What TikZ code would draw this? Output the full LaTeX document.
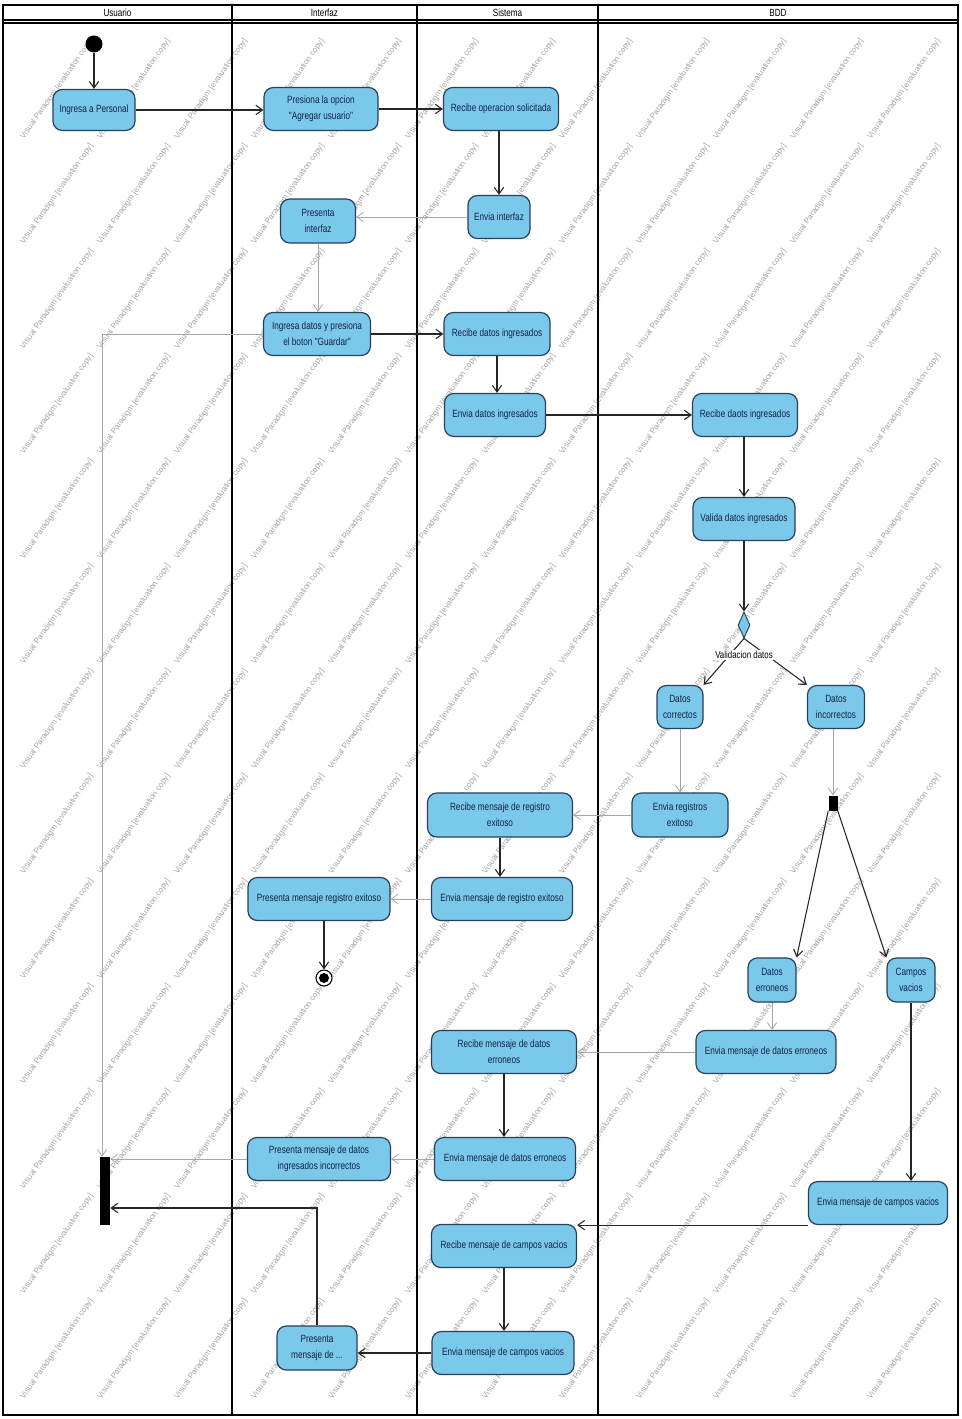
\documentclass[tikz,border=0pt]{standalone}
\usepackage{fontspec}
\setmainfont{Liberation Sans}
\newfontfamily\actfont[FakeStretch=0.78]{Liberation Sans}
\usetikzlibrary{arrows.meta,shapes.geometric,calc}

\definecolor{actfill}{RGB}{122,200,234}
\definecolor{actline}{RGB}{40,64,90}
\definecolor{acttext}{RGB}{20,35,70}
\definecolor{wmgray}{RGB}{165,165,165}

\tikzset{
  act/.style={draw=actline, line width=0.9pt, fill=actfill, rounded corners=7pt,
    align=center, text=acttext, inner sep=1pt,
    font=\actfont\fontsize{7.9}{12}\selectfont},
  bw/.style={minimum width=#1*0.75pt},
  bh/.style={minimum height=#1*0.75pt},
  flow/.style={draw=black!85, line width=0.8pt, -{Straight Barb[length=5pt,width=7pt]}},
  flowlt/.style={draw=black!35, line width=0.6pt, -{Straight Barb[length=5pt,width=7pt]}},
  lane/.style={draw=black, line width=1.1pt},
  lanehead/.style={font=\actfont\fontsize{7.8}{9}\selectfont, text=black, inner sep=0pt},
  wm/.style={rotate=55, text=wmgray, font=\fontsize{6}{6}\selectfont, inner sep=0pt},
  bar/.style={fill=black, inner sep=0pt},
}

\begin{document}
\begin{tikzpicture}[x=0.75pt, y=-0.75pt]
\useasboundingbox (0,0) rectangle (961,1419);
\fill[white] (0,0) rectangle (961,1419);

% evaluation watermark: one string per grid cell, forming diagonal stripes
\foreach \k in {0,...,11}{
  \foreach \m in {0,...,12}{
    \node[wm] (wm\k_\m) at (57+77*\k, 89+105*\m) {Visual Paradigm [evaluation copy]};
  }
}

% swimlane frame
\draw[lane] (3,5) rectangle (958,1415);
\draw[line width=0.8pt] (3,20) -- (958,20);
\draw[line width=0.8pt] (3,23) -- (958,23);
\draw[lane] (232,5) -- (232,1415);
\draw[lane] (417,5) -- (417,1415);
\draw[lane] (598,5) -- (598,1415);
\node[lanehead] (hUsuario) at (117.5,13) {Usuario};
\node[lanehead] (hInterfaz) at (324.5,13) {Interfaz};
\node[lanehead] (hSistema) at (507.5,13) {Sistema};
\node[lanehead] (hBDD) at (778,13) {BDD};

% control nodes
\node[circle, fill=black, minimum size=12.75pt, inner sep=0pt] (init) at (94,44) {};
\node[circle, draw=black, line width=0.8pt, fill=white, minimum size=12pt, inner sep=0pt] (fin) at (324,978) {};
\node[circle, fill=black, minimum size=7.5pt, inner sep=0pt] (fincore) at (fin) {};
\node[diamond, draw=actline, fill=actfill, line width=0.7pt, minimum width=9pt, minimum height=19.5pt, inner sep=0pt] (dia) at (744,625) {};
\node[bar, minimum width=6.75pt, minimum height=11.25pt] (fork) at (833,803) {};
\node[bar, minimum width=7.5pt, minimum height=51pt] (join) at (105,1191) {};

% actions
\node[act, bw=82,  bh=41] (ip)   at (94,110)  {Ingresa a Personal};
\node[act, bw=114, bh=43] (po)   at (321,109) {Presiona la opcion\\"Agregar usuario"};
\node[act, bw=115, bh=43] (ro)   at (501,109) {Recibe operacion solicitada};
\node[act, bw=62,  bh=43] (ei)   at (499,217) {Envia interfaz};
\node[act, bw=75,  bh=44] (pi)   at (318,221) {Presenta\\interfaz};
\node[act, bw=107, bh=43] (id)   at (317,334) {Ingresa datos y presiona\\el boton "Guardar"};
\node[act, bw=106, bh=43] (rd)   at (497,334) {Recibe datos ingresados};
\node[act, bw=101, bh=43] (ed)   at (495,415) {Envia datos ingresados};
\node[act, bw=105, bh=43] (rdb)  at (745,415) {Recibe daots ingresados};
\node[act, bw=102, bh=43] (vd)   at (744,519) {Valida datos ingresados};
\node[act, bw=46,  bh=43] (dc)   at (680,707) {Datos\\correctos};
\node[act, bw=57,  bh=43] (di)   at (836,707) {Datos\\incorrectos};
\node[act, bw=96,  bh=44] (er)   at (680,815) {Envia registros\\exitoso};
\node[act, bw=145, bh=44] (rre)  at (500,815) {Recibe mensaje de registro\\exitoso};
\node[act, bw=141, bh=43] (emr)  at (502,899) {Envia mensaje de registro exitoso};
\node[act, bw=142, bh=43] (pmr)  at (319,899) {Presenta mensaje registro exitoso};
\node[act, bw=48,  bh=44] (de)   at (772,980) {Datos\\erroneos};
\node[act, bw=48,  bh=44] (cv)   at (911,980) {Campos\\vacios};
\node[act, bw=140, bh=43] (emdb) at (766,1052) {Envia mensaje de datos erroneos};
\node[act, bw=145, bh=43] (rmde) at (504,1052) {Recibe mensaje de datos\\erroneos};
\node[act, bw=141, bh=43] (emds) at (505,1159) {Envia mensaje de datos erroneos};
\node[act, bw=143, bh=43] (pmdi) at (319,1159) {Presenta mensaje de datos\\ingresados incorrectos};
\node[act, bw=139, bh=43] (emcb) at (878,1203) {Envia mensaje de campos vacios};
\node[act, bw=145, bh=43] (rmcv) at (504,1246) {Recibe mensaje de campos vacios};
\node[act, bw=142, bh=43] (emcs) at (503,1353) {Envia mensaje de campos vacios};
\node[act, bw=80,  bh=44] (pmde) at (317,1348) {Presenta\\mensaje de ...};

% control flows
\draw[flow] (init) -- (ip);
\draw[flow] (ip.east) -- (ip.east -| po.west);
\draw[flow] (po.east) -- (po.east -| ro.west);
\draw[flow] (ro.south -| ei.north) -- (ei.north);
\draw[flowlt] (ei.west) -- (ei.west -| pi.east);
\draw[flowlt] (pi.south) -- (pi.south |- id.north);
\draw[flow] (id.east) -- (id.east -| rd.west);
\draw[flow] (rd.south) -- (rd.south |- ed.north);
\draw[flow] (ed.east) -- (ed.east -| rdb.west);
\draw[flow] (rdb.south -| vd.north) -- (vd.north);
\draw[flow] (vd.south) -- (dia.north);
\draw[flow] (dia.south) -- (dc.north east);
\draw[flow] (dia.south) -- (di.north west);
\node[fill=white, inner sep=1pt, font=\actfont\fontsize{7.6}{9}\selectfont] (vlabel) at (744,655) {Validacion datos};
\draw[flowlt] (dc.south) -- (dc.south |- er.north);
\draw[flowlt] (di.south -| fork.north) -- (fork.north);
\draw[flowlt] (er.west) -- (er.west -| rre.east);
\draw[flow] (rre.south) -- (rre.south |- emr.north);
\draw[flowlt] (emr.west) -- (emr.west -| pmr.east);
\draw[flow] (pmr.south -| fin.north) -- (fin.north);
\draw[flow] (fork.south west) -- (de.north east);
\draw[flow] (fork.south east) -- (cv.north west);
\draw[flowlt] (de.south) -- (de.south |- emdb.north);
\draw[flowlt] (emdb.west) -- (emdb.west -| rmde.east);
\draw[flow] (rmde.south) -- (rmde.south |- emds.north);
\draw[flowlt] (emds.west) -- (emds.west -| pmdi.east);
\draw[flowlt] (pmdi.west) -- (pmdi.west -| join.east);
\coordinate (jtop) at ([xshift=-2.25pt]join.north);
\draw[flowlt] (id.west) -- (id.west -| jtop) -- (jtop);
\draw[flow] (cv.south) -- (cv.south |- emcb.north);
\draw[flow] (emcb.south west) -- (emcb.south west -| rmcv.north east);
\draw[flow] (rmcv.south) -- (rmcv.south |- emcs.north);
\draw[flow] (emcs.west) -- (emcs.west -| pmde.east);
\coordinate (jlow) at ($(join.east)+(0,17)$);
\draw[flow] (pmde.north) -- (pmde.north |- jlow) -- (jlow);
\end{tikzpicture}
\end{document}
